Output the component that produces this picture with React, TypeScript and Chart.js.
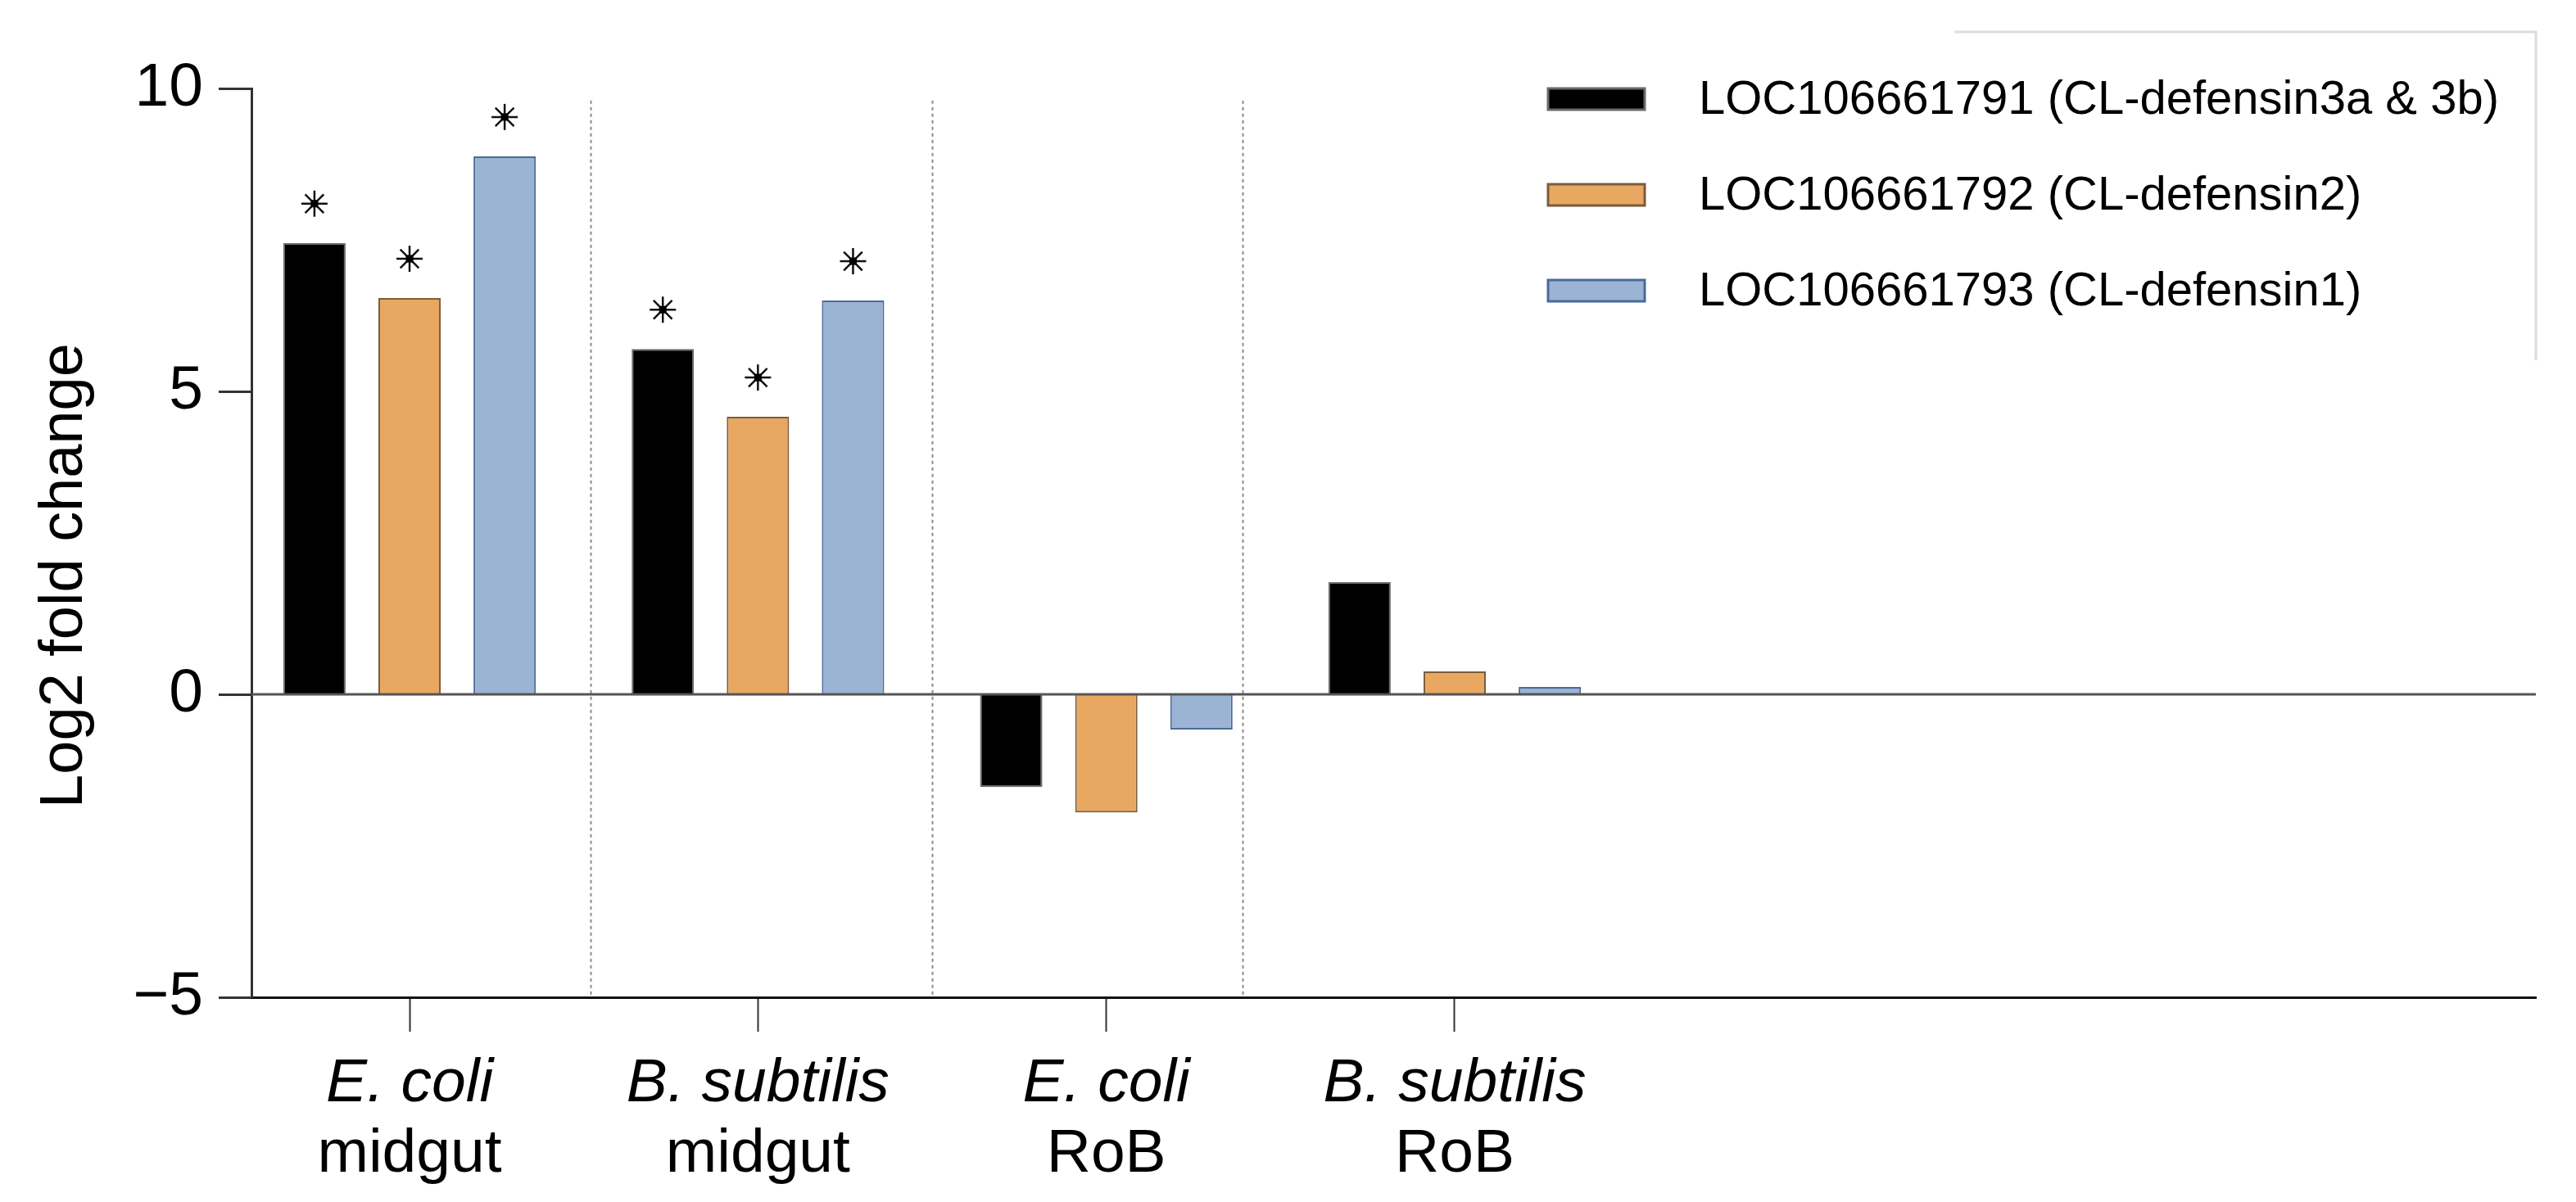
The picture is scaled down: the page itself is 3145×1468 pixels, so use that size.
import React, { useEffect, useRef } from 'react';
import { Chart, registerables } from 'chart.js';

Chart.register(...registerables);

// ---- data ----
const categories = ['E. coli', 'B. subtilis', 'E. coli', 'B. subtilis'];
const tissues = ['midgut', 'midgut', 'RoB', 'RoB'];
const seriesLabels = [
  'LOC106661791 (CL-defensin3a & 3b)',
  'LOC106661792 (CL-defensin2)',
  'LOC106661793 (CL-defensin1)',
];
const defensin3ab = [7.45, 5.7, -1.53, 1.85];
const defensin2 = [6.54, 4.58, -1.95, 0.38];
const defensin1 = [8.88, 6.5, -0.58, 0.12];
const sig3ab = [true, true, false, false];
const sig2 = [true, true, false, false];
const sig1 = [true, true, false, false];
const yTickValues = [-5, 0, 5, 10];
const separatorsAt = [0.52, 1.5, 2.39];
const separatorTop = 9.8;

const FONT = '"Liberation Sans", Arial, Helvetica, sans-serif';

const toPoints = (arr: number[]) => arr.map((v, i) => ({ x: i, y: v }));

export default function App() {
  const ref = useRef<HTMLCanvasElement | null>(null);

  useEffect(() => {
    document.body.style.margin = '0';
    const canvas = ref.current;
    if (!canvas) return;
    const sigs = [sig3ab, sig2, sig1];

    const decor = {
      id: 'decor',
      beforeDatasetsDraw(chart: any) {
        const { ctx } = chart;
        const xs = chart.scales.x;
        const ys = chart.scales.y;
        ctx.save();
        ctx.strokeStyle = '#8a8a8a';
        ctx.lineWidth = 2;
        ctx.setLineDash([4, 4]);
        separatorsAt.forEach((v) => {
          const px = Math.round(xs.getPixelForValue(v)) + 0.5;
          ctx.beginPath();
          ctx.moveTo(px, ys.getPixelForValue(separatorTop));
          ctx.lineTo(px, ys.getPixelForValue(ys.min));
          ctx.stroke();
        });
        ctx.restore();
      },
      afterDatasetsDraw(chart: any) {
        const { ctx } = chart;
        const xs = chart.scales.x;
        const ys = chart.scales.y;
        ctx.save();
        ctx.strokeStyle = '#555';
        ctx.lineWidth = 3;
        const y0 = ys.getPixelForValue(0);
        ctx.beginPath();
        ctx.moveTo(chart.chartArea.left, y0);
        ctx.lineTo(chart.chartArea.right, y0);
        ctx.stroke();
        ctx.restore();

        chart.data.datasets.forEach((ds: any, di: number) => {
          const meta = chart.getDatasetMeta(di);
          meta.data.forEach((bar: any, j: number) => {
            if (!sigs[di][j]) return;
            const cx = bar.x;
            const cy = bar.y - 48;
            const r = 16;
            ctx.save();
            ctx.strokeStyle = '#111';
            ctx.lineWidth = 2.5;
            for (let k = 0; k < 4; k++) {
              const a = (k * Math.PI) / 4;
              ctx.beginPath();
              ctx.moveTo(cx - r * Math.sin(a), cy - r * Math.cos(a));
              ctx.lineTo(cx + r * Math.sin(a), cy + r * Math.cos(a));
              ctx.stroke();
            }
            ctx.fillStyle = '#000';
            ctx.fillRect(cx - 4.5, cy - 4.5, 9, 9);
            ctx.restore();
          });
        });

        ctx.save();
        ctx.fillStyle = '#000';
        ctx.textAlign = 'center';
        ctx.textBaseline = 'alphabetic';
        categories.forEach((c, i) => {
          const px = xs.getPixelForValue(i);
          ctx.font = `italic 75px ${FONT}`;
          ctx.fillText(c, px, 1345);
          ctx.font = `75px ${FONT}`;
          ctx.fillText(tissues[i], px, 1431);
        });
        ctx.restore();

        ctx.save();
        ctx.fillStyle = '#000';
        ctx.font = `74px ${FONT}`;
        ctx.translate(100, 703);
        ctx.rotate(-Math.PI / 2);
        ctx.textAlign = 'center';
        ctx.textBaseline = 'alphabetic';
        ctx.fillText('Log2 fold change', 0, 0);
        ctx.restore();

        ctx.save();
        ctx.strokeStyle = '#dcdcdc';
        ctx.lineWidth = 3;
        ctx.beginPath();
        ctx.moveTo(2386, 39);
        ctx.lineTo(3096, 39);
        ctx.lineTo(3096, 440);
        ctx.stroke();
        ctx.restore();

        chart.data.datasets.forEach((ds: any, i: number) => {
          const cy = 121 + i * 117;
          ctx.save();
          ctx.fillStyle = ds.backgroundColor;
          ctx.fillRect(1890, cy - 13, 118, 26);
          ctx.strokeStyle = ds.borderColor;
          ctx.lineWidth = 3;
          ctx.strokeRect(1890, cy - 13, 118, 26);
          ctx.fillStyle = '#000';
          ctx.font = `58px ${FONT}`;
          ctx.textAlign = 'left';
          ctx.textBaseline = 'middle';
          ctx.fillText(ds.label, 2074, cy + 2);
          ctx.restore();
        });
      },
    };

    const chart = new Chart(canvas, {
      type: 'bar',
      data: {
        datasets: [
          {
            label: seriesLabels[0],
            data: toPoints(defensin3ab),
            backgroundColor: '#000000',
            borderColor: '#6a6a6a',
            borderWidth: 2,
          },
          {
            label: seriesLabels[1],
            data: toPoints(defensin2),
            backgroundColor: '#E8A862',
            borderColor: '#7a5c3c',
            borderWidth: 2,
          },
          {
            label: seriesLabels[2],
            data: toPoints(defensin1),
            backgroundColor: '#9BB4D4',
            borderColor: '#4A6A9A',
            borderWidth: 2,
          },
        ] as any,
      },
      options: {
        animation: false,
        responsive: false,
        devicePixelRatio: 1,
        layout: { padding: { top: 108, right: 49, left: 0, bottom: 0 } },
        plugins: {
          legend: { display: false },
          tooltip: { enabled: false },
        },
        datasets: {
          bar: { categoryPercentage: 0.819, barPercentage: 0.655 },
        } as any,
        scales: {
          x: {
            type: 'linear',
            offset: false,
            min: -0.4538,
            max: 6.1035,
            afterBuildTicks: (s: any) => {
              s.ticks = categories.map((_, i) => ({ value: i }));
            },
            afterFit: (s: any) => {
              s.height = 250;
            },
            ticks: { autoSkip: false, callback: () => '', font: { size: 10 } },
            grid: {
              offset: false,
              drawOnChartArea: false,
              drawTicks: true,
              tickLength: 42,
              tickColor: '#333',
              tickWidth: 2,
              color: '#333',
            },
            border: { display: true, color: '#111', width: 3 },
          },
          y: {
            min: -5,
            max: 10,
            afterBuildTicks: (s: any) => {
              s.ticks = yTickValues.map((v) => ({ value: v }));
            },
            afterFit: (s: any) => {
              s.width = 307;
            },
            ticks: {
              color: '#000',
              padding: 19,
              font: { family: FONT, size: 75 },
              callback: (v: any) => (v < 0 ? '\u2212' + Math.abs(v) : String(v)),
            },
            grid: {
              drawOnChartArea: false,
              drawTicks: true,
              tickLength: 40,
              tickColor: '#333',
              tickWidth: 3,
              color: '#333',
            },
            border: { display: true, color: '#333', width: 3 },
          },
        },
      } as any,
      plugins: [decor],
    });

    return () => chart.destroy();
  }, []);

  return (
    <div style={{ width: 3145, height: 1468, background: '#fff' }}>
      <canvas ref={ref} width={3145} height={1468} style={{ display: 'block' }} />
    </div>
  );
}
